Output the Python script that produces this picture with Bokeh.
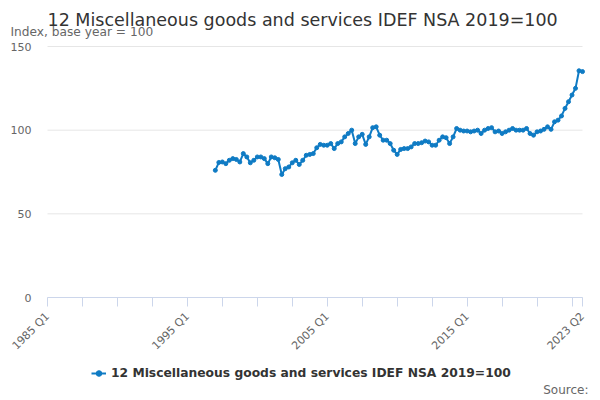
from bokeh.plotting import figure
from bokeh.models import (Range1d, FixedTicker, Label, Legend, LegendItem, ColumnDataSource)
from bokeh.embed import file_html
from bokeh.resources import INLINE
import math

# ---- data ----
title_text = "12 Miscellaneous goods and services IDEF NSA 2019=100"
subtitle_text = "Index, base year = 100"
series_name = "12 Miscellaneous goods and services IDEF NSA 2019=100"
source_text = "Source:"

first_year = 1985
last_year = 2023
quarters = [f"{y} Q{q}" for y in range(first_year, last_year + 1) for q in range(1, 5)][:154]  # 1985 Q1 .. 2023 Q2
data_start = "1997 Q1"

values = [
    76.0, 80.7, 81.0, 80.0, 82.0, 83.0, 82.5, 81.0, 86.0, 84.0,
    80.5, 82.0, 84.0, 84.0, 83.0, 80.0, 84.0, 83.5, 82.5, 73.5,
    77.0, 78.0, 80.5, 82.0, 79.5, 82.0, 85.0, 85.5, 86.0, 89.5,
    91.5, 91.0, 91.0, 92.0, 89.0, 92.0, 93.0, 96.0, 98.0, 100.0,
    92.0, 96.0, 97.5, 91.5, 96.0, 101.5, 102.0, 97.0, 94.0, 94.0,
    92.0, 88.0, 85.5, 88.5, 89.0, 89.0, 90.0, 92.0, 92.0, 92.5,
    93.5, 93.0, 91.0, 91.0, 94.0, 96.0, 95.5, 92.0, 96.0, 101.0,
    100.0, 99.5, 99.5, 99.0, 99.5, 100.0, 98.0, 100.0, 101.0, 101.5,
    99.0, 99.5, 98.0, 99.0, 100.0, 101.0, 100.0, 100.0, 100.0, 101.0,
    98.0, 97.0, 99.0, 99.5, 100.5, 102.0, 100.5, 105.0, 106.0, 108.5,
    113.0, 117.0, 121.0, 125.0, 135.5, 135.0,
]

tick_labels = ["1985 Q1", "1995 Q1", "2005 Q1", "2015 Q1", "2023 Q2"]
y_ticks = [0, 50, 100, 150]

# ---- layout constants (pixels) ----
W, H = 600, 400
PLOT_L, PLOT_R = 47, 582   # pixel columns of first / last quarter
PLOT_T, PLOT_B = 46, 297   # pixel rows of Y_MAX / 0
Y_MAX = 150

# ---- build ----
start_idx = quarters.index(data_start)
xs = list(range(start_idx, start_idx + len(values)))
src = ColumnDataSource(dict(x=xs, y=values, q=[quarters[i] for i in xs]))

last_idx = len(quarters) - 1
x_ticks = list(range(0, last_idx, 10)) + [last_idx]
overrides = {i: (quarters[i] if quarters[i] in tick_labels else "") for i in x_ticks}

ppq = (PLOT_R - PLOT_L) / last_idx
ppu = (PLOT_B - PLOT_T) / Y_MAX
x_range = Range1d(-PLOT_L / ppq, last_idx + (W - PLOT_R) / ppq)
y_range = Range1d(-(H - PLOT_B) / ppu, PLOT_B / ppu)

FONT = "DejaVu Sans"
BLUE = "#0f7bc4"

p = figure(width=W, height=H, output_backend="svg", toolbar_location=None,
           x_range=x_range, y_range=y_range, title=None,
           min_border_left=0, min_border_right=0, min_border_top=0, min_border_bottom=0)
p.outline_line_color = None
p.background_fill_color = "white"
p.border_fill_color = "white"
p.xgrid.grid_line_color = None
p.ygrid.grid_line_color = None

# horizontal grid lines over the plotted quarter span
p.segment(x0=[0] * len(y_ticks), x1=[last_idx] * len(y_ticks), y0=y_ticks, y1=y_ticks,
          line_color="#e6e6e6", line_width=1)

r_line = p.line("x", "y", source=src, line_color=BLUE, line_width=2)
r_pts = p.scatter("x", "y", source=src, size=4, fill_color=BLUE, line_color=BLUE)

xa = p.xaxis[0]
xa.fixed_location = 0
xa.bounds = (0, last_idx)
xa.ticker = FixedTicker(ticks=x_ticks, minor_ticks=[])
xa.major_label_overrides = overrides
xa.major_label_orientation = math.pi / 4
xa.axis_line_color = "#ccd6eb"
xa.major_tick_line_color = "#ccd6eb"
xa.major_tick_out = 9
xa.major_tick_in = 0
xa.minor_tick_line_color = None
xa.major_label_text_color = "#666666"
xa.major_label_text_font = FONT
xa.major_label_text_font_size = "11px"
xa.major_label_standoff = 8

ya = p.yaxis[0]
ya.fixed_location = 0
ya.bounds = (0, Y_MAX)
ya.ticker = FixedTicker(ticks=y_ticks, minor_ticks=[])
ya.axis_line_color = None
ya.major_tick_line_color = None
ya.minor_tick_line_color = None
ya.major_label_text_color = "#666666"
ya.major_label_text_font = FONT
ya.major_label_text_font_size = "11px"
ya.major_label_standoff = 10

# texts (screen units measured from the bottom-left corner)
p.add_layout(Label(x=PLOT_L, y=H - 19, x_units="screen", y_units="screen", text=title_text,
                   text_align="left", text_baseline="alphabetic", text_font=FONT,
                   text_font_size="17.5px", text_color="#333333"))
p.add_layout(Label(x=10, y=H - 31, x_units="screen", y_units="screen", text=subtitle_text,
                   text_align="left", text_baseline="alphabetic", text_font=FONT,
                   text_font_size="12.2px", text_color="#666666"))
p.add_layout(Label(x=588, y=H - 389, x_units="screen", y_units="screen", text=source_text,
                   text_align="right", text_baseline="middle", text_font=FONT,
                   text_font_size="12px", text_color="#666666"))

legend = Legend(items=[LegendItem(label=series_name, renderers=[r_line, r_pts])],
                location=(91, 20), orientation="horizontal",
                background_fill_alpha=0, border_line_color=None,
                padding=0, margin=0, glyph_width=15, glyph_height=14, label_standoff=5,
                label_text_font=FONT, label_text_font_size="12.3px", label_text_font_style="bold",
                label_text_color="#333333")
p.add_layout(legend)

open("out.html", "w").write(file_html(p, INLINE))
